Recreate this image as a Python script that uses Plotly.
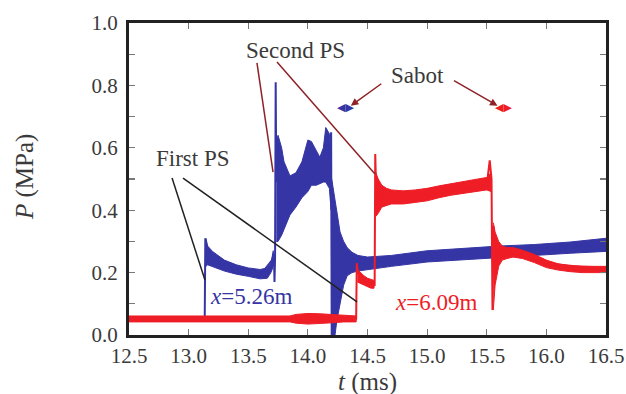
import plotly.graph_objects as go

# ---------------- data ----------------
# x = 5.26 m gauge (blue): main trace
blue_t = [12.5, 13.135, 13.14, 13.15, 13.25, 13.4, 13.6, 13.7, 13.715, 13.72, 13.725, 13.73,
          13.735, 13.8, 14.0, 14.18, 14.195, 14.2, 14.21, 14.22, 14.23, 14.24, 14.25, 14.3,
          14.4, 14.5, 15.0, 15.5, 16.0, 16.5]
blue_p = [0.05, 0.05, 0.31, 0.28, 0.235, 0.205, 0.192, 0.24, 0.26, 0.17, 0.25, 0.81,
          0.5, 0.45, 0.5, 0.55, 0.65, -0.02, 0.45, -0.02, 0.4, 0.05, 0.3, 0.26,
          0.23, 0.23, 0.25, 0.265, 0.275, 0.29]

# blue noise envelopes (t, low, high)
blue_a_t = [13.145, 13.16, 13.2, 13.25, 13.3, 13.4, 13.5, 13.6, 13.66, 13.69, 13.71]
blue_a_hi = [0.31, 0.285, 0.268, 0.255, 0.24, 0.225, 0.215, 0.21, 0.215, 0.23, 0.27]
blue_a_lo = [0.22, 0.225, 0.22, 0.212, 0.205, 0.195, 0.188, 0.18, 0.182, 0.2, 0.22]

blue_b_t = [13.735, 13.75, 13.78, 13.8, 13.85, 13.9, 13.95, 14.0, 14.03, 14.07, 14.1, 14.13,
            14.15, 14.18, 14.195]
blue_b_hi = [0.62, 0.64, 0.6, 0.555, 0.51, 0.52, 0.555, 0.625, 0.62, 0.59, 0.57, 0.6,
             0.665, 0.645, 0.55]
blue_b_lo = [0.3, 0.3, 0.32, 0.34, 0.385, 0.41, 0.44, 0.46, 0.48, 0.48, 0.485, 0.49,
             0.49, 0.47, 0.4]

blue_c_t = [14.2, 14.22, 14.245, 14.27, 14.3, 14.33, 14.37, 14.42, 14.5, 14.7, 15.0, 15.3,
            15.6, 15.9, 16.2, 16.5]
blue_c_hi = [0.5, 0.45, 0.38, 0.33, 0.3, 0.28, 0.265, 0.255, 0.25, 0.255, 0.27, 0.278,
             0.285, 0.29, 0.298, 0.31]
blue_c_lo = [-0.02, -0.02, 0.05, 0.1, 0.16, 0.19, 0.2, 0.205, 0.21, 0.22, 0.234, 0.24,
             0.247, 0.255, 0.262, 0.268]

# x = 6.09 m gauge (red): main trace
red_t = [12.5, 14.405, 14.41, 14.42, 14.45, 14.5, 14.555, 14.56, 14.565, 14.575, 14.62,
         15.0, 15.5, 15.525, 15.54, 15.548, 15.556, 15.57, 15.6, 15.7, 16.0, 16.5]
red_p = [0.052, 0.052, 0.23, 0.2, 0.185, 0.175, 0.16, 0.16, 0.58, 0.42, 0.45,
         0.45, 0.48, 0.56, 0.5, 0.08, 0.35, 0.2, 0.27, 0.265, 0.23, 0.21]

red_a_t = [12.5, 13.85, 13.9, 14.0, 14.1, 14.2, 14.3, 14.405]
red_a_hi = [0.061, 0.061, 0.066, 0.069, 0.068, 0.065, 0.062, 0.061]
red_a_lo = [0.042, 0.042, 0.038, 0.035, 0.036, 0.039, 0.042, 0.042]

red_b_t = [14.415, 14.44, 14.47, 14.5, 14.53, 14.555]
red_b_hi = [0.21, 0.2, 0.19, 0.182, 0.178, 0.175]
red_b_lo = [0.17, 0.165, 0.16, 0.155, 0.15, 0.15]

red_c_t = [14.57, 14.59, 14.62, 14.66, 14.7, 14.8, 14.9, 15.0, 15.1, 15.2, 15.3, 15.4,
           15.5, 15.535]
red_c_hi = [0.52, 0.5, 0.48, 0.47, 0.465, 0.462, 0.465, 0.47, 0.478, 0.485, 0.492, 0.5,
            0.505, 0.52]
red_c_lo = [0.38, 0.39, 0.41, 0.415, 0.42, 0.42, 0.425, 0.43, 0.44, 0.448, 0.455, 0.46,
            0.465, 0.46]

red_d_t = [15.555, 15.57, 15.6, 15.63, 15.67, 15.72, 15.8, 15.9, 16.0, 16.1, 16.2, 16.3,
           16.4, 16.5]
red_d_hi = [0.36, 0.33, 0.3, 0.285, 0.28, 0.28, 0.272, 0.258, 0.24, 0.228, 0.222, 0.22,
            0.22, 0.22]
red_d_lo = [0.08, 0.16, 0.22, 0.24, 0.245, 0.25, 0.245, 0.232, 0.216, 0.208, 0.203, 0.2,
            0.2, 0.2]

# sabot arrival marks
sabot_blue = (14.315, 0.727)
sabot_red = (15.64, 0.728)

# ticks
x_ticks = [12.5, 13.0, 13.5, 14.0, 14.5, 15.0, 15.5, 16.0, 16.5]
x_labels = ["12.5", "13.0", "13.5", "14.0", "14.5", "15.0", "15.5", "16.0", "16.5"]
y_ticks = [0.0, 0.1, 0.2, 0.3, 0.4, 0.5, 0.6, 0.7, 0.8, 0.9, 1.0]
y_labels = ["0.0", "", "0.2", "", "0.4", "", "0.6", "", "0.8", "", "1.0"]

# ---------------- styles ----------------
BLUE = "#3535a5"
RED = "#ee1d26"
DARKRED = "#8e2226"
TXT = "#3a3a3a"
FONT = "Liberation Serif"
# the page's body margin is removed (post_script), so the figure fills the window
W, H = 626, 394
ML, MR, MT, MB = 129, 20, 23, 59
# plot area in window pixels
PX0, PX1, PY0, PY1 = 129, 606, 23, 335

fig = go.Figure()


def band(t, lo, hi, color):
    fig.add_trace(go.Scatter(
        x=list(t) + list(t)[::-1], y=list(hi) + list(lo)[::-1],
        fill="toself", fillcolor=color, mode="lines",
        line=dict(color=color, width=1), hoverinfo="skip", showlegend=False))


# blue first (red drawn on top)
band(blue_a_t, blue_a_lo, blue_a_hi, BLUE)
band(blue_b_t, blue_b_lo, blue_b_hi, BLUE)
band(blue_c_t, blue_c_lo, blue_c_hi, BLUE)
fig.add_trace(go.Scatter(x=blue_t, y=blue_p, mode="lines",
                         line=dict(color=BLUE, width=2), showlegend=False))

band(red_a_t, red_a_lo, red_a_hi, RED)
band(red_b_t, red_b_lo, red_b_hi, RED)
band(red_c_t, red_c_lo, red_c_hi, RED)
band(red_d_t, red_d_lo, red_d_hi, RED)
fig.add_trace(go.Scatter(x=red_t, y=red_p, mode="lines",
                         line=dict(color=RED, width=2), showlegend=False))

# sabot marks
fig.add_trace(go.Scatter(x=[sabot_blue[0]], y=[sabot_blue[1]], mode="text", text=["◀▶"],
                         textfont=dict(color=BLUE, size=11, family="DejaVu Sans"),
                         showlegend=False))
fig.add_trace(go.Scatter(x=[sabot_red[0]], y=[sabot_red[1]], mode="text", text=["◀▶"],
                         textfont=dict(color=RED, size=11, family="DejaVu Sans"),
                         showlegend=False))

# pointer lines
shapes = [
    dict(type="line", x0=12.861, y0=0.503, x1=13.137, y1=0.176, line=dict(color="#222", width=1.5)),
    dict(type="line", x0=12.953, y0=0.503, x1=14.412, y1=0.106, line=dict(color="#222", width=1.5)),
    dict(type="line", x0=13.573, y0=0.872, x1=13.708, y1=0.522, line=dict(color=DARKRED, width=1.5)),
    dict(type="line", x0=13.741, y0=0.875, x1=14.563, y1=0.516, line=dict(color=DARKRED, width=1.5)),
]
for s in shapes:
    s.update(xref="x", yref="y", layer="above")

pw = PX1 - PX0
ph = PY1 - PY0
annotations = [
    dict(x=13.037, y=0.567, text="First PS", showarrow=False, font=dict(size=23, color=TXT, family=FONT)),
    dict(x=13.90, y=0.913, text="Second PS", showarrow=False, font=dict(size=23, color=TXT, family=FONT)),
    dict(x=14.92, y=0.833, text="Sabot", showarrow=False, font=dict(size=23, color=TXT, family=FONT)),
    dict(x=13.523, y=0.122, text="<i>x</i>=5.26m", showarrow=False, font=dict(size=23, color=BLUE, family=FONT)),
    dict(x=15.074, y=0.103, text="<i>x</i>=6.09m", showarrow=False, font=dict(size=23, color=RED, family=FONT)),
    # sabot arrows
    dict(x=14.36, y=0.735, ax=32, ay=-23, text="", showarrow=True, arrowhead=2, arrowsize=1,
         arrowwidth=1.5, arrowcolor=DARKRED, standoff=0),
    dict(x=15.59, y=0.735, ax=-45, ay=-26, text="", showarrow=True, arrowhead=2, arrowsize=1,
         arrowwidth=1.5, arrowcolor=DARKRED, standoff=0),
    # axis titles
    dict(xref="paper", yref="paper", x=(367 - PX0) / pw, y=(PY1 - 382) / ph,
         xanchor="center", yanchor="middle", text="<i>t</i> (ms)", showarrow=False,
         font=dict(size=25, color=TXT, family=FONT)),
    dict(xref="paper", yref="paper", x=(25 - PX0) / pw, y=(PY1 - 177) / ph,
         xanchor="center", yanchor="middle", text="<i>P</i> (MPa)", showarrow=False,
         textangle=-90, font=dict(size=25, color=TXT, family=FONT)),
]

axis_common = dict(
    showgrid=False, zeroline=False, showline=True, linecolor="#222", linewidth=3,
    mirror="ticks", ticks="inside", ticklen=6, tickwidth=1.2, tickcolor="#777",
    tickfont=dict(size=21, color=TXT, family=FONT), automargin=False,
    ticklabeloverflow="allow",
)

fig.update_layout(
    width=W, height=H,
    margin=dict(l=ML, r=MR, t=MT, b=MB, autoexpand=False),
    paper_bgcolor="white", plot_bgcolor="white",
    xaxis=dict(range=[12.5, 16.5], tickmode="array", tickvals=x_ticks, ticktext=x_labels,
               ticklabelstandoff=0, **axis_common),
    yaxis=dict(range=[0, 1.0], tickmode="array", tickvals=y_ticks, ticktext=y_labels,
               ticklabelstandoff=4, **axis_common),
    shapes=shapes,
    annotations=annotations,
    showlegend=False,
    hovermode=False,
)

fig.write_html("out.html",
               config={"displayModeBar": False, "staticPlot": True},
               post_script="document.body.style.margin='0';document.body.style.overflow='hidden';")
